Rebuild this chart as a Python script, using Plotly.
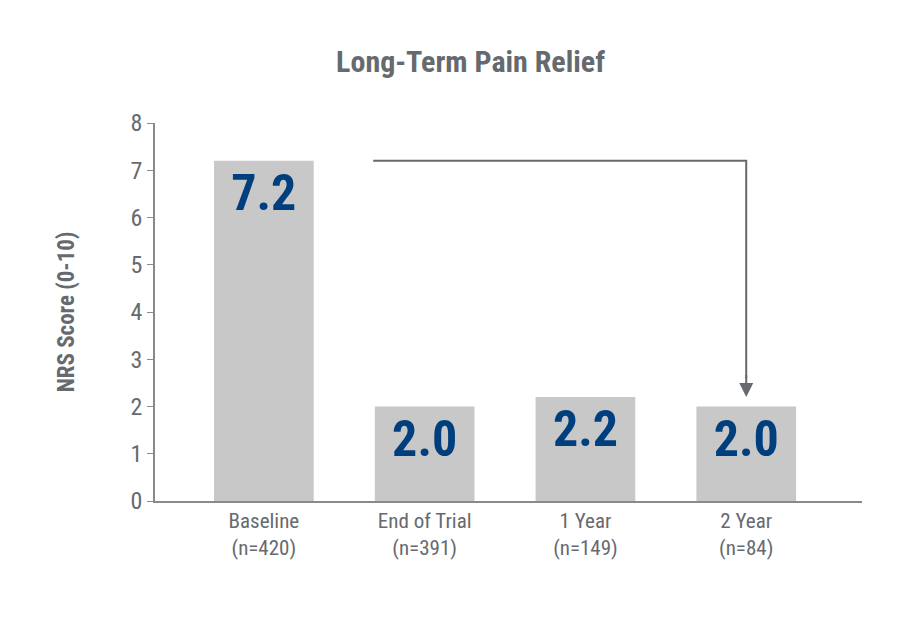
import plotly.graph_objects as go

categories = ["Baseline<br>(n=420)", "End of Trial<br>(n=391)", "1 Year<br>(n=149)", "2 Year<br>(n=84)"]
positions = [0, 1, 2, 3]
scores = [7.2, 2.0, 2.2, 2.0]
labels = ["7.2", "2.0", "2.2", "2.0"]

FONT = "Liberation Sans Narrow, Roboto Condensed, Roboto, Arial"
GREY = "#666a6e"

fig = go.Figure()
fig.add_trace(go.Bar(
    x=positions, y=scores, width=0.62,
    marker=dict(color="#c8c8c8", line=dict(width=0)),
    text=labels, textposition="inside", insidetextanchor="end",
    textfont=dict(family=FONT, size=50, color="#003f7d", weight="bold"),
    textangle=0, hoverinfo="skip",
))

# connector from baseline to 2 year
fig.add_trace(go.Scatter(
    x=[0.68, 3, 3], y=[scores[0], scores[0], 2.6],
    mode="lines", line=dict(color=GREY, width=2), hoverinfo="skip",
))
fig.add_annotation(
    x=3, y=2.2, ax=3, ay=2.7, xref="x", yref="y", axref="x", ayref="y",
    showarrow=True, arrowhead=2, arrowsize=1.4, arrowwidth=2,
    arrowcolor=GREY, text="",
)

fig.update_layout(
    width=907, height=627,
    paper_bgcolor="white", plot_bgcolor="white",
    showlegend=False,
    margin=dict(l=147, r=53, t=115, b=134),
    title=dict(text="<b>Long-Term Pain Relief</b>", x=0.51, xanchor="center",
               y=0.915, yanchor="middle",
               font=dict(family=FONT, size=30, color=GREY)),
    font=dict(family=FONT, color=GREY),
)
fig.update_xaxes(
    range=[-0.677, 3.72], tickvals=positions, ticktext=categories,
    showline=True, linecolor="#8a8a8a", linewidth=1.5, ticks="",
    showgrid=False, zeroline=False, tickfont=dict(size=21, color=GREY),
)
fig.update_yaxes(
    range=[0, 8], dtick=1, showline=True, linecolor="#8a8a8a", linewidth=1.5,
    ticks="outside", ticklen=6, tickcolor="#8a8a8a", showgrid=False, zeroline=False,
    tickfont=dict(size=24, color=GREY),
    title=dict(text="<b>NRS Score (0-10)</b>", font=dict(size=23, color=GREY), standoff=50),
)

fig.write_html("out.html")
